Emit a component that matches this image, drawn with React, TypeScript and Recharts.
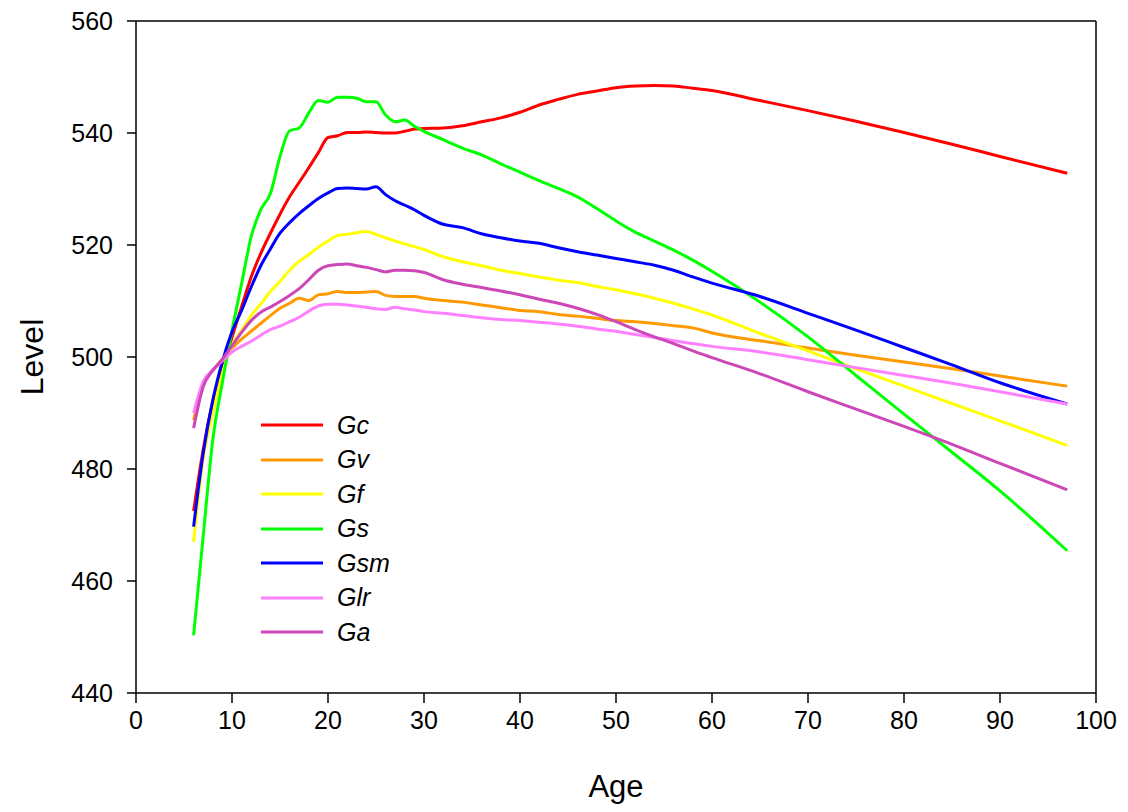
import React from 'react';
import { LineChart, Line, XAxis, YAxis, ReferenceLine } from 'recharts';

const ages = [6, 7, 8, 9, 10, 11, 12, 13, 14, 15, 16, 17, 18, 19, 20, 21, 22, 23, 24, 25, 26, 27, 28, 29, 30, 32, 34, 36, 38, 40, 42, 44, 46, 48, 50, 52, 54, 56, 58, 60, 65, 70, 75, 80, 85, 90, 97];

const Gc = [472.5, 483.5, 492.0, 497.5, 503.5, 509.0, 514.3, 518.5, 522.1, 525.5, 528.6, 531.2, 533.8, 536.5, 539.2, 539.5, 540.1, 540.1, 540.2, 540.1, 540.0, 540.0, 540.3, 540.7, 540.8, 540.9, 541.3, 542.0, 542.7, 543.7, 545.0, 546.0, 546.9, 547.5, 548.1, 548.4, 548.5, 548.4, 548.0, 547.6, 545.8, 544.0, 542.1, 540.1, 538.0, 535.8, 532.8];
const Gv = [488.7, 495.2, 497.6, 499.6, 501.6, 503.2, 504.6, 506.0, 507.4, 508.7, 509.6, 510.5, 510.1, 511.1, 511.3, 511.7, 511.5, 511.5, 511.6, 511.7, 511.0, 510.8, 510.8, 510.8, 510.5, 510.1, 509.8, 509.3, 508.8, 508.3, 508.1, 507.6, 507.3, 506.9, 506.5, 506.3, 506.0, 505.6, 505.2, 504.3, 502.9, 501.6, 500.3, 499.1, 497.9, 496.6, 494.8];
const Gf = [467.0, 481.8, 490.0, 497.2, 502.0, 504.8, 507.4, 509.5, 511.7, 513.5, 515.5, 517.1, 518.3, 519.6, 520.7, 521.7, 521.9, 522.2, 522.4, 521.9, 521.3, 520.7, 520.2, 519.7, 519.2, 517.9, 517.0, 516.3, 515.5, 514.9, 514.3, 513.7, 513.3, 512.6, 512.0, 511.3, 510.5, 509.6, 508.6, 507.5, 504.2, 501.1, 497.9, 494.8, 491.7, 488.6, 484.2];
const Gs = [450.3, 468.0, 485.2, 495.5, 504.7, 513.1, 521.5, 526.3, 529.2, 535.8, 540.4, 540.9, 543.6, 545.8, 545.5, 546.4, 546.4, 546.2, 545.6, 545.6, 543.2, 542.0, 542.3, 541.2, 540.3, 538.8, 537.3, 536.1, 534.5, 533.0, 531.5, 530.1, 528.6, 526.5, 524.3, 522.3, 520.7, 519.1, 517.3, 515.3, 509.8, 503.6, 496.7, 489.8, 483.0, 476.1, 465.4];
const Gsm = [469.7, 482.8, 492.3, 499.2, 504.5, 508.3, 512.5, 516.3, 519.3, 522.1, 524.0, 525.6, 527.0, 528.3, 529.3, 530.1, 530.2, 530.1, 530.0, 530.4, 529.0, 527.9, 527.1, 526.3, 525.3, 523.7, 523.1, 522.0, 521.3, 520.7, 520.3, 519.5, 518.8, 518.2, 517.6, 517.0, 516.4, 515.5, 514.3, 513.2, 510.8, 507.8, 504.8, 501.7, 498.6, 495.4, 491.6];
const Glr = [490.0, 495.6, 497.7, 499.3, 500.9, 501.9, 502.8, 503.9, 504.9, 505.5, 506.3, 507.1, 508.2, 509.1, 509.4, 509.4, 509.3, 509.1, 508.9, 508.6, 508.5, 508.9, 508.6, 508.4, 508.1, 507.8, 507.4, 507.0, 506.7, 506.5, 506.2, 505.9, 505.5, 505.0, 504.6, 504.0, 503.5, 502.9, 502.4, 501.9, 500.9, 499.5, 498.1, 496.7, 495.3, 493.8, 491.6];
const Ga = [487.3, 494.7, 497.6, 499.6, 502.0, 504.4, 506.5, 508.0, 508.9, 509.9, 511.0, 512.2, 513.8, 515.5, 516.3, 516.5, 516.6, 516.3, 516.0, 515.6, 515.2, 515.5, 515.5, 515.4, 515.1, 513.8, 513.0, 512.4, 511.8, 511.1, 510.3, 509.6, 508.7, 507.6, 506.3, 504.9, 503.6, 502.4, 501.1, 499.9, 497.0, 493.8, 490.7, 487.6, 484.4, 481.0, 476.3];

const xTicks = [0, 10, 20, 30, 40, 50, 60, 70, 80, 90, 100];
const yTicks = [440, 460, 480, 500, 520, 540, 560];

const seriesNames = ['Gc', 'Gv', 'Gf', 'Gs', 'Gsm', 'Glr', 'Ga'];
const seriesValues = [Gc, Gv, Gf, Gs, Gsm, Glr, Ga];
const seriesColors = ['#ff0000', '#ff9900', '#ffff00', '#00ff00', '#0000ff', '#ff80ff', '#cc47b8'];

const data = ages.map((age, i) => {
  const row: Record<string, number> = { age };
  seriesNames.forEach((n, k) => {
    row[n] = seriesValues[k][i];
  });
  return row;
});

const FONT = '"Liberation Sans", Arial, sans-serif';

const YLabel = (props: any) => {
  const vb = props.viewBox;
  const x = vb.x + 24;
  const y = vb.y + vb.height / 2;
  return (
    <text x={x} y={y} transform={`rotate(-90, ${x}, ${y})`} textAnchor="middle" dominantBaseline="central" fontSize={32} fontFamily={FONT} fill="#000">
      Level
    </text>
  );
};

const XLabel = (props: any) => {
  const vb = props.viewBox;
  const x = vb.x + vb.width / 2;
  const y = vb.y + 93;
  return (
    <text x={x} y={y} textAnchor="middle" dominantBaseline="central" fontSize={31} fontFamily={FONT} fill="#000">
      Age
    </text>
  );
};

export default function App() {
  return (
    <div style={{ position: 'relative', width: 1112, height: 796, background: '#fff' }}>
      <LineChart width={1112} height={796} data={data} margin={{ top: 13, right: 24, bottom: 0, left: 0 }}>
        <XAxis
          dataKey="age"
          type="number"
          domain={[0, 100]}
          ticks={xTicks}
          interval={0}
          height={111}
          tickSize={10}
          tickMargin={8}
          stroke="#000"
          strokeWidth={1.5}
          tick={{ fill: '#000', fontSize: 25, fontFamily: FONT }}
          label={XLabel}
        />
        <YAxis
          type="number"
          domain={[440, 560]}
          ticks={yTicks}
          interval={0}
          width={128}
          tickSize={9}
          tickMargin={14}
          stroke="#000"
          strokeWidth={1.5}
          tick={{ fill: '#000', fontSize: 25, fontFamily: FONT }}
          label={YLabel}
        />
        <ReferenceLine y={560} stroke="#000" strokeWidth={1.5} />
        <ReferenceLine x={100} stroke="#000" strokeWidth={1.5} />
        {seriesNames.map((n, k) => (
          <Line
            key={n}
            type="monotone"
            dataKey={n}
            stroke={seriesColors[k]}
            strokeWidth={3}
            dot={false}
            activeDot={false}
            isAnimationActive={false}
          />
        ))}
      </LineChart>
      <div style={{ position: 'absolute', left: 252, top: 400, fontFamily: FONT }}>
        {seriesNames.map((n, k) => (
          <div key={n} style={{ display: 'flex', alignItems: 'center', height: 34.5 }}>
            <svg width={64} height={6} style={{ display: 'block' }}>
              <line x1={1} y1={3} x2={63} y2={3} stroke={seriesColors[k]} strokeWidth={3} />
            </svg>
            <span style={{ marginLeft: 13, fontSize: 25, fontStyle: 'italic', color: '#000', lineHeight: '25px' }}>{n}</span>
          </div>
        ))}
      </div>
    </div>
  );
}
